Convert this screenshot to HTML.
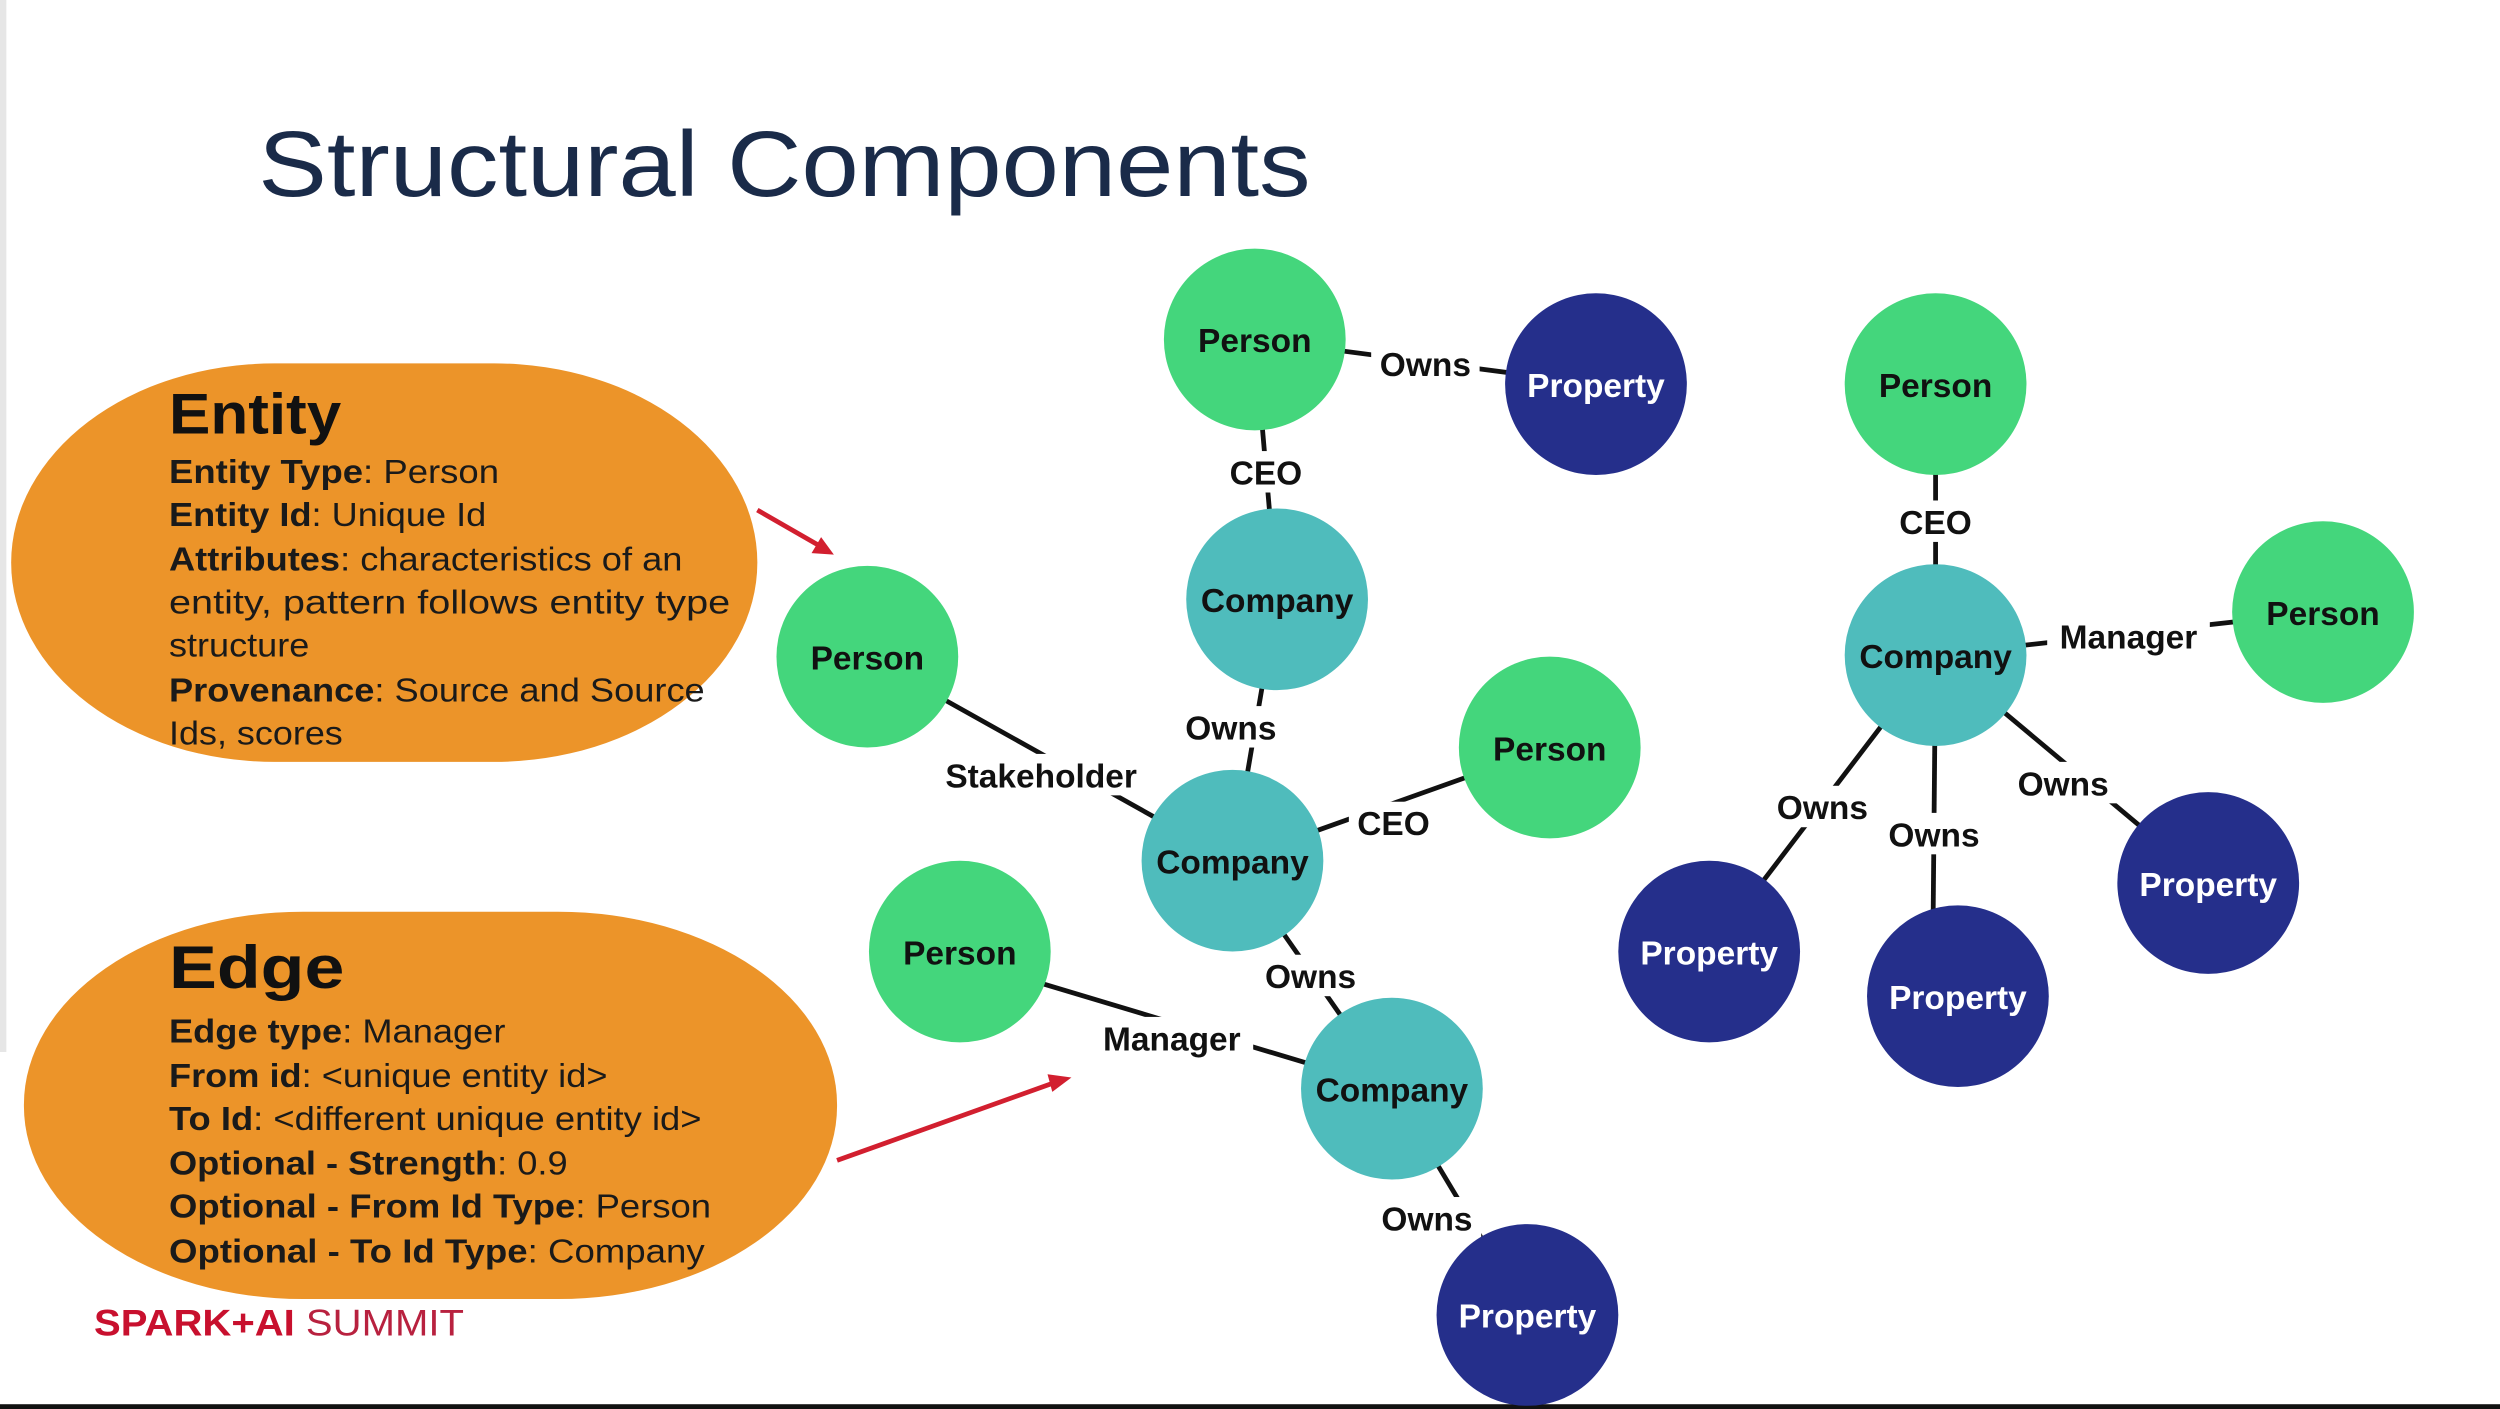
<!DOCTYPE html>
<html><head><meta charset="utf-8"><style>
html,body{margin:0;padding:0;background:#fff;}
svg{display:block;}
text{font-family:"Liberation Sans",Arial,sans-serif;}
</style></head><body>
<svg width="2500" height="1409" viewBox="0 0 1568 884" preserveAspectRatio="none">
<rect x="0" y="0" width="1568" height="884" fill="#fff"/>
<rect x="0" y="0" width="4" height="660" fill="#e6e6e6"/>
<rect x="0" y="881" width="1568" height="3" fill="#111"/>
<text x="162" y="123" font-size="58" fill="#1a2b49" textLength="660" lengthAdjust="spacingAndGlyphs">Structural Components</text>

<!-- Entity blob -->
<rect x="7" y="228" width="468" height="250" rx="165" ry="125" fill="#ec9429"/>
<text x="106" y="272" font-size="36" font-weight="bold" fill="#111" textLength="108" lengthAdjust="spacingAndGlyphs">Entity</text>
<g font-size="21" fill="#1a1a1a">
<text x="106" y="303" textLength="207" lengthAdjust="spacingAndGlyphs"><tspan font-weight="bold">Entity Type</tspan>: Person</text>
<text x="106" y="330" textLength="199" lengthAdjust="spacingAndGlyphs"><tspan font-weight="bold">Entity Id</tspan>: Unique Id</text>
<text x="106" y="358" textLength="322" lengthAdjust="spacingAndGlyphs"><tspan font-weight="bold">Attributes</tspan>: characteristics of an</text>
<text x="106" y="385" textLength="352" lengthAdjust="spacingAndGlyphs">entity, pattern follows entity type</text>
<text x="106" y="412" textLength="88" lengthAdjust="spacingAndGlyphs">structure</text>
<text x="106" y="440" textLength="336" lengthAdjust="spacingAndGlyphs"><tspan font-weight="bold">Provenance</tspan>: Source and Source</text>
<text x="106" y="467" textLength="109" lengthAdjust="spacingAndGlyphs">Ids, scores</text>
</g>

<!-- Edge blob -->
<rect x="15" y="572" width="510" height="243" rx="175" ry="121" fill="#ec9429"/>
<text x="106" y="620" font-size="38" font-weight="bold" fill="#111" textLength="110" lengthAdjust="spacingAndGlyphs">Edge</text>
<g font-size="21" fill="#1a1a1a">
<text x="106" y="654" textLength="211" lengthAdjust="spacingAndGlyphs"><tspan font-weight="bold">Edge type</tspan>: Manager</text>
<text x="106" y="682" textLength="275" lengthAdjust="spacingAndGlyphs"><tspan font-weight="bold">From id</tspan>: &lt;unique entity id&gt;</text>
<text x="106" y="709" textLength="334" lengthAdjust="spacingAndGlyphs"><tspan font-weight="bold">To Id</tspan>: &lt;different unique entity id&gt;</text>
<text x="106" y="737" textLength="250" lengthAdjust="spacingAndGlyphs"><tspan font-weight="bold">Optional - Strength</tspan>: 0.9</text>
<text x="106" y="764" textLength="340" lengthAdjust="spacingAndGlyphs"><tspan font-weight="bold">Optional - From Id Type</tspan>: Person</text>
<text x="106" y="792" textLength="336" lengthAdjust="spacingAndGlyphs"><tspan font-weight="bold">Optional - To Id Type</tspan>: Company</text>
</g>

<text x="59" y="838" font-size="23" fill="#c8102e" textLength="232" lengthAdjust="spacingAndGlyphs"><tspan font-weight="bold">SPARK+AI</tspan> <tspan fill="#b8213f">SUMMIT</tspan></text>

<!-- red arrows -->
<g stroke="#d21f2f" stroke-width="3" fill="#d21f2f">
<line x1="475" y1="320" x2="515" y2="343"/>
<polygon points="523,348 509,347 515,337" stroke="none"/>
<line x1="525" y1="728" x2="662" y2="679"/>
<polygon points="672,676 660,685 657,674" stroke="none"/>
</g>

<!-- edges -->
<g stroke="#111" stroke-width="3">
<line x1="787" y1="213" x2="1001" y2="241"/>
<line x1="787" y1="213" x2="801" y2="376"/>
<line x1="801" y1="376" x2="773" y2="540"/>
<line x1="544" y1="412" x2="773" y2="540"/>
<line x1="972" y1="469" x2="773" y2="540"/>
<line x1="773" y1="540" x2="873" y2="683"/>
<line x1="640" y1="613" x2="873" y2="683"/>
<line x1="873" y1="683" x2="958" y2="825"/>
<line x1="1214" y1="241" x2="1214" y2="411"/>
<line x1="1214" y1="411" x2="1457" y2="384"/>
<line x1="1214" y1="411" x2="1072" y2="597"/>
<line x1="1214" y1="411" x2="1212" y2="625"/>
<line x1="1214" y1="411" x2="1385" y2="554"/>
</g>

<!-- labels -->
<g font-size="21" font-weight="bold" fill="#111" text-anchor="middle">
<g fill="#fff">
<rect x="860" y="215" width="68" height="26"/>
<rect x="766" y="283" width="56" height="26"/>
<rect x="738" y="443" width="68" height="26"/>
<rect x="582" y="473" width="142" height="26"/>
<rect x="846" y="503" width="56" height="26"/>
<rect x="788" y="599" width="68" height="26"/>
<rect x="684" y="638" width="102" height="26"/>
<rect x="861" y="751" width="68" height="26"/>
<rect x="1186" y="314" width="56" height="26"/>
<rect x="1284" y="386" width="102" height="26"/>
<rect x="1109" y="493" width="68" height="26"/>
<rect x="1179" y="510" width="68" height="26"/>
<rect x="1260" y="478" width="68" height="26"/>
</g>
<text x="894" y="236">Owns</text>
<text x="794" y="304">CEO</text>
<text x="772" y="464">Owns</text>
<text x="653" y="494">Stakeholder</text>
<text x="874" y="524">CEO</text>
<text x="822" y="620">Owns</text>
<text x="735" y="659">Manager</text>
<text x="895" y="772">Owns</text>
<text x="1214" y="335">CEO</text>
<text x="1335" y="407">Manager</text>
<text x="1143" y="514">Owns</text>
<text x="1213" y="531">Owns</text>
<text x="1294" y="499">Owns</text>
</g>

<!-- nodes -->
<g font-size="21" font-weight="bold" text-anchor="middle">
<g fill="#44d67c">
<circle cx="787" cy="213" r="57"/>
<circle cx="544" cy="412" r="57"/>
<circle cx="972" cy="469" r="57"/>
<circle cx="602" cy="597" r="57"/>
<circle cx="1214" cy="241" r="57"/>
<circle cx="1457" cy="384" r="57"/>
</g>
<g fill="#4fbcbc">
<circle cx="801" cy="376" r="57"/>
<circle cx="773" cy="540" r="57"/>
<circle cx="873" cy="683" r="57"/>
<circle cx="1214" cy="411" r="57"/>
</g>
<g fill="#252f8b">
<circle cx="1001" cy="241" r="57"/>
<circle cx="958" cy="825" r="57"/>
<circle cx="1072" cy="597" r="57"/>
<circle cx="1228" cy="625" r="57"/>
<circle cx="1385" cy="554" r="57"/>
</g>
<g fill="#111">
<text x="787" y="221">Person</text>
<text x="544" y="420">Person</text>
<text x="972" y="477">Person</text>
<text x="602" y="605">Person</text>
<text x="1214" y="249">Person</text>
<text x="1457" y="392">Person</text>
<text x="801" y="384">Company</text>
<text x="773" y="548">Company</text>
<text x="873" y="691">Company</text>
<text x="1214" y="419">Company</text>
</g>
<g fill="#fff">
<text x="1001" y="249">Property</text>
<text x="958" y="833">Property</text>
<text x="1072" y="605">Property</text>
<text x="1228" y="633">Property</text>
<text x="1385" y="562">Property</text>
</g>
</g>
</svg>
</body></html>
